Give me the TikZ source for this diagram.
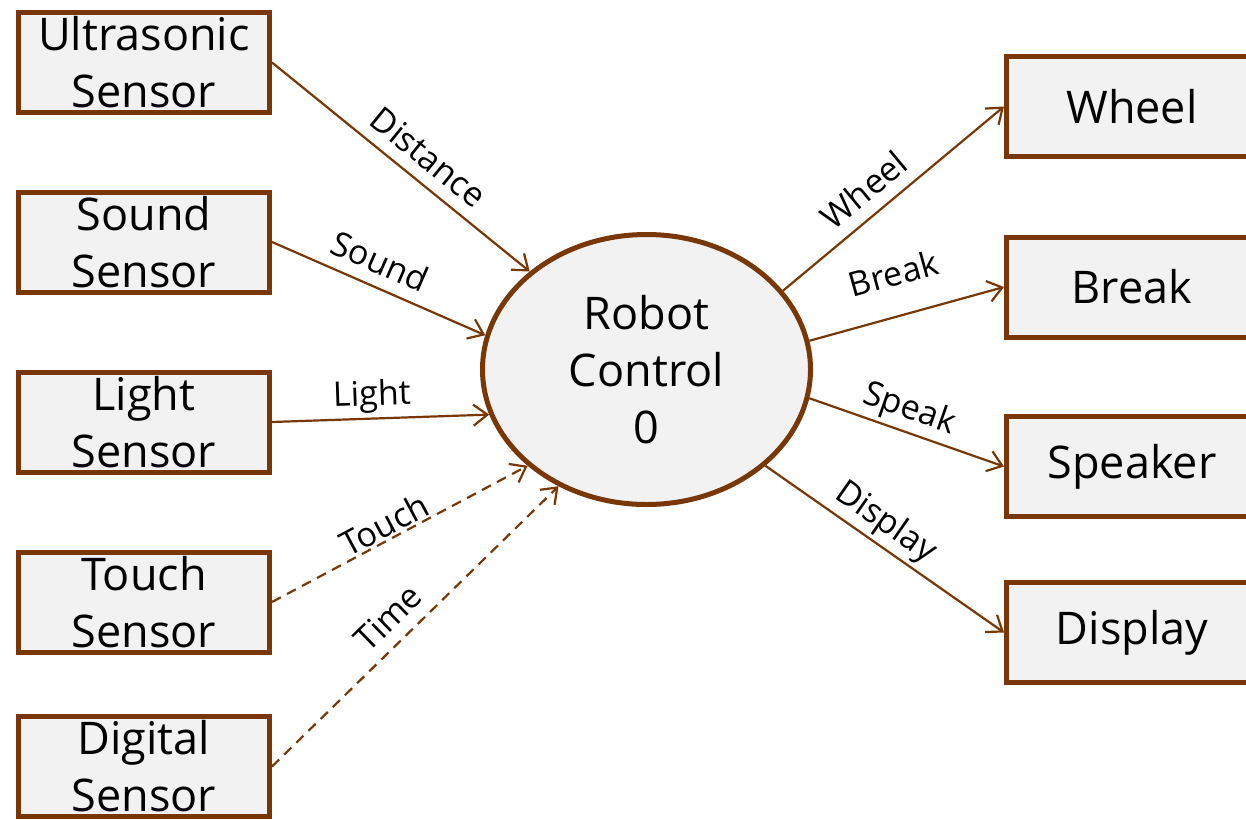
\documentclass[tikz,border=0pt]{standalone}
\usepackage{fontspec}
\setmainfont{Open Sans}
\usetikzlibrary{arrows.meta,shapes.geometric}
\definecolor{brn}{RGB}{120,55,5}
\definecolor{fil}{RGB}{242,242,242}
\begin{document}
\begin{tikzpicture}[x=1pt,y=-1pt,
  box/.style={draw=brn, line width=5pt, fill=fil, minimum width=251pt, minimum height=100pt,
    inner sep=0pt, align=center, font=\fontsize{45}{57}\selectfont},
  ctl/.style={ellipse, draw=brn, line width=5pt, fill=fil, minimum width=328pt, minimum height=270pt,
    inner sep=0pt, align=center, font=\fontsize{45}{57}\selectfont},
  flow/.style={draw=brn, line width=2.2pt, -{Straight Barb[length=14pt,width=21pt]}},
  dflow/.style={flow, dash pattern=on 10pt off 7pt},
  lbl/.style={sloped, above, text depth=0pt, inner xsep=0pt, inner ysep=12pt, text=black,
    font=\fontsize{34}{40}\selectfont}]
\useasboundingbox (0,0) rectangle (1246,819);
\fill[white] (0,0) rectangle (1246,819);
% left boxes
\node[box] (us) at (144,62.5) {Ultrasonic\\Sensor};
\node[box] (so) at (144,242) {Sound\\Sensor};
\node[box] (li) at (144,422) {Light\\Sensor};
\node[box] (to) at (144,602) {Touch\\Sensor};
\node[box] (di) at (144,766.5) {Digital\\Sensor};
% right boxes
\node[box] (wh) at (1132,106.5) {Wheel};
\node[box] (br) at (1132,287) {Break};
\node[box] (sp) at (1132,466.5) {Speaker};
\node[box] (dp) at (1132,632.5) {Display};
% centre
\node[ctl] (rc) at (646.5,369.5) {Robot\\Control\\0};
% inputs
\draw[flow] (us.east) -- (rc.140) node[lbl, pos=0.546] {Distance};
\draw[flow] (so.east) -- (rc.168) node[lbl, pos=0.46] {Sound};
\draw[flow] (li.east) -- (rc.196) node[lbl, pos=0.464] {Light};
\draw[dflow] (to.east) -- (rc.219) node[lbl, pos=0.468, inner ysep=2pt] {Touch};
\draw[dflow] (di.east) -- (rc.233) node[lbl, pos=0.467] {Time};
% outputs
\draw[flow] (rc.30) -- (wh.west) node[lbl, pos=0.44] {Wheel};
\draw[flow] (rc.10.6) -- (br.west) node[lbl, pos=0.49, inner ysep=29pt] {Break};
\draw[flow] (rc.-10.4) -- (sp.west) node[lbl, pos=0.475] {Speak};
\draw[flow] (rc.-39.4) -- (dp.west) node[lbl, pos=0.45] {Display};
\end{tikzpicture}
\end{document}
